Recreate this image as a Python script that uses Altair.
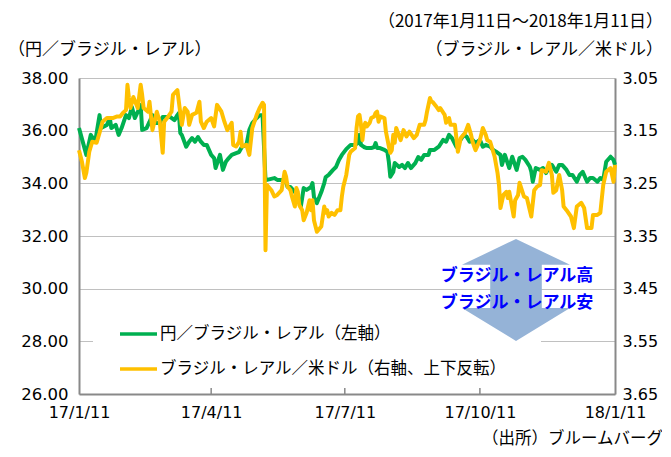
import altair as alt
import pandas as pd

# 円／ブラジル・レアル (left axis)
jpy_dates = [
    "2017-01-11", "2017-01-16", "2017-01-19", "2017-01-22", "2017-01-25", "2017-01-26", "2017-01-30",
    "2017-02-01", "2017-02-02", "2017-02-05", "2017-02-07", "2017-02-09", "2017-02-12", "2017-02-14",
    "2017-02-16", "2017-02-18", "2017-02-20", "2017-02-22", "2017-02-23", "2017-02-26", "2017-02-28",
    "2017-03-02", "2017-03-04", "2017-03-07", "2017-03-09", "2017-03-11", "2017-03-14", "2017-03-17",
    "2017-03-19", "2017-03-20", "2017-03-21", "2017-03-22", "2017-03-25", "2017-03-27", "2017-03-29",
    "2017-03-31", "2017-04-02", "2017-04-04", "2017-04-06", "2017-04-08", "2017-04-11", "2017-04-13",
    "2017-04-14", "2017-04-17", "2017-04-19", "2017-04-21", "2017-04-23", "2017-04-25", "2017-04-28",
    "2017-04-30", "2017-05-02", "2017-05-05", "2017-05-07", "2017-05-09", "2017-05-12", "2017-05-14",
    "2017-05-16", "2017-05-18", "2017-05-19", "2017-05-24", "2017-05-26", "2017-05-30", "2017-06-01",
    "2017-06-02", "2017-06-04", "2017-06-07", "2017-06-09", "2017-06-11", "2017-06-13", "2017-06-15",
    "2017-06-18", "2017-06-19", "2017-06-20", "2017-06-22", "2017-06-25", "2017-06-27", "2017-06-28",
    "2017-06-30", "2017-07-03", "2017-07-05", "2017-07-07", "2017-07-09", "2017-07-12", "2017-07-15",
    "2017-07-18", "2017-07-20", "2017-07-21", "2017-07-22", "2017-07-24", "2017-07-26", "2017-07-29",
    "2017-07-31", "2017-08-01", "2017-08-02", "2017-08-04", "2017-08-07", "2017-08-09", "2017-08-10",
    "2017-08-11", "2017-08-13", "2017-08-14", "2017-08-17", "2017-08-19", "2017-08-21", "2017-08-23",
    "2017-08-25", "2017-08-28", "2017-08-30", "2017-09-01", "2017-09-03", "2017-09-06", "2017-09-07",
    "2017-09-10", "2017-09-13", "2017-09-16", "2017-09-18", "2017-09-20", "2017-09-22", "2017-09-25",
    "2017-09-27", "2017-09-30", "2017-10-02", "2017-10-04", "2017-10-06", "2017-10-08", "2017-10-11",
    "2017-10-13", "2017-10-15", "2017-10-18", "2017-10-20", "2017-10-22", "2017-10-25", "2017-10-26",
    "2017-10-28", "2017-10-31", "2017-11-02", "2017-11-05", "2017-11-07", "2017-11-09", "2017-11-11",
    "2017-11-14", "2017-11-15", "2017-11-16", "2017-11-18", "2017-11-21", "2017-11-23", "2017-11-25",
    "2017-11-27", "2017-11-29", "2017-12-02", "2017-12-04", "2017-12-06", "2017-12-09", "2017-12-11",
    "2017-12-13", "2017-12-16", "2017-12-18", "2017-12-20", "2017-12-23", "2017-12-25", "2017-12-27",
    "2017-12-30", "2018-01-01", "2018-01-03", "2018-01-05", "2018-01-08", "2018-01-10", "2018-01-11",
]
jpy_values = [
    36.10, 35.08, 35.84, 35.58, 36.59, 36.10, 36.22,
    36.48, 36.10, 36.22, 35.84, 36.10, 36.59, 36.48,
    36.90, 36.48, 36.71, 36.97, 36.03, 36.10, 36.33,
    36.59, 36.29, 36.29, 36.52, 36.52, 36.52, 36.40,
    36.59, 36.67, 35.91, 35.84, 35.39, 35.58, 35.72,
    35.58, 35.76, 35.58, 35.46, 35.46, 35.08, 34.96,
    34.58, 35.08, 34.51, 34.82, 34.96, 35.08, 35.15,
    35.19, 35.39, 35.46, 36.03, 36.29, 36.48, 36.59,
    36.59, 34.13, 34.13, 34.20, 34.13, 34.13, 34.05,
    33.86, 33.86, 33.67, 33.48, 33.10, 33.82, 33.75,
    33.86, 34.01, 33.48, 33.25, 33.67, 34.01, 34.24,
    34.32, 34.51, 34.62, 34.89, 35.08, 35.30, 35.46,
    35.46, 35.53, 35.84, 35.46, 35.38, 35.34, 35.34,
    35.38, 35.53, 35.34, 35.34, 35.27, 35.19, 34.81,
    34.25, 34.43, 34.77, 34.62, 34.70, 34.58, 34.77,
    34.58, 34.77, 35.00, 34.89, 35.08, 35.08, 35.27,
    35.27, 35.39, 35.65, 35.58, 35.84, 35.72, 35.39,
    35.58, 35.84, 35.77, 35.58, 35.65, 35.53, 35.65,
    35.39, 35.46, 35.39, 35.27, 35.20, 35.08, 34.70,
    35.08, 34.58, 35.01, 34.51, 34.96, 35.01, 34.89,
    34.63, 34.44, 34.06, 34.58, 34.51, 34.58, 34.39,
    34.58, 34.70, 34.44, 34.70, 34.70, 34.51, 34.32,
    34.32, 34.06, 34.32, 34.44, 34.06, 34.20, 34.20,
    34.06, 34.20, 34.13, 34.82, 35.01, 34.89, 34.70,
]

# ブラジル・レアル／米ドル (right axis, reversed)
usd_dates = [
    "2017-01-11", "2017-01-13", "2017-01-15", "2017-01-16", "2017-01-18", "2017-01-20", "2017-01-23",
    "2017-01-25", "2017-01-27", "2017-01-30", "2017-02-01", "2017-02-03", "2017-02-06", "2017-02-08",
    "2017-02-10", "2017-02-12", "2017-02-13", "2017-02-14", "2017-02-15", "2017-02-17", "2017-02-20",
    "2017-02-22", "2017-02-23", "2017-02-24", "2017-02-27", "2017-02-28", "2017-03-02", "2017-03-05",
    "2017-03-07", "2017-03-09", "2017-03-10", "2017-03-12", "2017-03-15", "2017-03-16", "2017-03-18",
    "2017-03-19", "2017-03-20", "2017-03-22", "2017-03-24", "2017-03-26", "2017-03-27", "2017-03-29",
    "2017-04-01", "2017-04-03", "2017-04-04", "2017-04-06", "2017-04-08", "2017-04-11", "2017-04-13",
    "2017-04-15", "2017-04-18", "2017-04-20", "2017-04-22", "2017-04-25", "2017-04-26", "2017-04-28",
    "2017-04-30", "2017-05-01", "2017-05-02", "2017-05-05", "2017-05-07", "2017-05-09", "2017-05-12",
    "2017-05-14", "2017-05-16", "2017-05-17", "2017-05-18", "2017-05-19", "2017-05-22", "2017-05-24",
    "2017-05-26", "2017-05-29", "2017-05-31", "2017-06-01", "2017-06-02", "2017-06-04", "2017-06-05",
    "2017-06-07", "2017-06-08", "2017-06-09", "2017-06-10", "2017-06-12", "2017-06-13", "2017-06-15",
    "2017-06-17", "2017-06-18", "2017-06-19", "2017-06-20", "2017-06-22", "2017-06-25", "2017-06-26",
    "2017-06-27", "2017-06-28", "2017-06-29", "2017-06-30", "2017-07-02", "2017-07-04", "2017-07-06",
    "2017-07-08", "2017-07-09", "2017-07-10", "2017-07-12", "2017-07-14", "2017-07-15", "2017-07-18",
    "2017-07-19", "2017-07-20", "2017-07-21", "2017-07-22", "2017-07-23", "2017-07-24", "2017-07-25",
    "2017-07-26", "2017-07-28", "2017-07-29", "2017-07-31", "2017-08-01", "2017-08-02", "2017-08-03",
    "2017-08-04", "2017-08-07", "2017-08-08", "2017-08-10", "2017-08-11", "2017-08-12", "2017-08-13",
    "2017-08-14", "2017-08-15", "2017-08-18", "2017-08-20", "2017-08-22", "2017-08-24", "2017-08-27",
    "2017-08-29", "2017-08-31", "2017-09-03", "2017-09-04", "2017-09-05", "2017-09-07", "2017-09-08",
    "2017-09-09", "2017-09-11", "2017-09-13", "2017-09-14", "2017-09-17", "2017-09-18", "2017-09-20",
    "2017-09-21", "2017-09-24", "2017-09-26", "2017-09-28", "2017-10-01", "2017-10-03", "2017-10-05",
    "2017-10-06", "2017-10-08", "2017-10-11", "2017-10-13", "2017-10-15", "2017-10-16", "2017-10-18",
    "2017-10-21", "2017-10-23", "2017-10-24", "2017-10-25", "2017-10-27", "2017-10-29", "2017-10-30",
    "2017-10-31", "2017-11-03", "2017-11-04", "2017-11-06", "2017-11-07", "2017-11-10", "2017-11-12",
    "2017-11-15", "2017-11-17", "2017-11-19", "2017-11-21", "2017-11-22", "2017-11-25", "2017-11-27",
    "2017-11-29", "2017-11-30", "2017-12-02", "2017-12-04", "2017-12-06", "2017-12-07", "2017-12-09",
    "2017-12-12", "2017-12-14", "2017-12-16", "2017-12-19", "2017-12-21", "2017-12-23", "2017-12-26",
    "2017-12-27", "2017-12-30", "2018-01-01", "2018-01-03", "2018-01-05", "2018-01-08", "2018-01-10",
    "2018-01-11",
]
usd_values = [
    3.187, 3.209, 3.240, 3.230, 3.190, 3.171, 3.173,
    3.154, 3.133, 3.126, 3.126, 3.126, 3.123, 3.123,
    3.116, 3.111, 3.063, 3.088, 3.107, 3.086, 3.107,
    3.063, 3.082, 3.107, 3.114, 3.095, 3.149, 3.114,
    3.133, 3.192, 3.133, 3.126, 3.114, 3.082, 3.076,
    3.073, 3.095, 3.139, 3.107, 3.114, 3.139, 3.120,
    3.116, 3.095, 3.133, 3.145, 3.133, 3.126, 3.142,
    3.101, 3.114, 3.133, 3.149, 3.135, 3.177, 3.180,
    3.171, 3.152, 3.180, 3.177, 3.196, 3.145, 3.120,
    3.107, 3.097, 3.101, 3.377, 3.253, 3.263, 3.275,
    3.272, 3.263, 3.228, 3.237, 3.256, 3.263, 3.275,
    3.294, 3.259, 3.266, 3.291, 3.301, 3.320, 3.306,
    3.282, 3.301, 3.282, 3.320, 3.342, 3.332, 3.313,
    3.294, 3.306, 3.301, 3.313, 3.306, 3.310, 3.301,
    3.301, 3.275, 3.256, 3.234, 3.196, 3.190, 3.183,
    3.145, 3.123, 3.120, 3.139, 3.168, 3.142, 3.135,
    3.142, 3.135, 3.126, 3.123, 3.116, 3.114, 3.133,
    3.123, 3.126, 3.152, 3.180, 3.192, 3.187, 3.158,
    3.173, 3.145, 3.168, 3.149, 3.161, 3.152, 3.164,
    3.158, 3.139, 3.139, 3.130, 3.114, 3.088, 3.095,
    3.096, 3.103, 3.111, 3.107, 3.120, 3.135, 3.126,
    3.139, 3.139, 3.190, 3.164, 3.154, 3.139, 3.158,
    3.171, 3.187, 3.168, 3.145, 3.158, 3.168, 3.171,
    3.199, 3.230, 3.253, 3.297, 3.272, 3.266, 3.278,
    3.266, 3.313, 3.282, 3.272, 3.249, 3.275, 3.278,
    3.313, 3.263, 3.256, 3.253, 3.225, 3.228, 3.211,
    3.234, 3.268, 3.263, 3.234, 3.263, 3.294, 3.301,
    3.313, 3.335, 3.294, 3.287, 3.297, 3.335, 3.335,
    3.310, 3.310, 3.306, 3.253, 3.228, 3.221, 3.247,
    3.215,
]

x_tick_dates = [(2017, 1, 11), (2017, 4, 11), (2017, 7, 11), (2017, 10, 11), (2018, 1, 11)]
inner_tick_dates = ["2017-04-11", "2017-07-11", "2017-10-11"]
left_ticks = [26, 28, 30, 32, 34, 36, 38]
right_ticks = [3.05, 3.15, 3.25, 3.35, 3.45, 3.55, 3.65]

legend_labels = ["円／ブラジル・レアル（左軸）", "ブラジル・レアル／米ドル（右軸、上下反転）"]
arrow_labels = ["ブラジル・レアル高", "ブラジル・レアル安"]
period_text = "（2017年1月11日～2018年1月11日）"
left_unit = "（円／ブラジル・レアル）"
right_unit = "（ブラジル・レアル／米ドル）"
source_text = "（出所）ブルームバーグ"

GREEN = "#00B050"
YELLOW = "#FFC000"
AXIS_GRAY = "#898989"
JP_FONT = "Noto Sans CJK JP"
NUM_FONT = "DejaVu Sans"

W, H = 536, 316

jpy_df = pd.DataFrame({"date": jpy_dates, "jpy": jpy_values})
usd_df = pd.DataFrame({"date": usd_dates, "usd": usd_values})


def dt(t):
    return alt.DateTime(year=t[0], month=t[1], date=t[2], utc=True)


x_enc = alt.X(
    "date:T",
    title=None,
    scale=alt.Scale(type="utc", domain=[dt(x_tick_dates[0]), dt(x_tick_dates[-1])]),
    axis=alt.Axis(
        values=[dt(t) for t in x_tick_dates],
        format="%y/%-m/%-d",
        labelFlush=False,
        ticks=False,
        grid=False,
        domainColor=AXIS_GRAY,
        domainWidth=2,
        labelPadding=10,
    ),
)

green = alt.Chart(jpy_df).mark_line(color=GREEN, strokeWidth=4, strokeJoin="round").encode(
    x=x_enc,
    y=alt.Y(
        "jpy:Q",
        title=None,
        scale=alt.Scale(domain=[26, 38], nice=False, zero=False),
        axis=alt.Axis(
            orient="left",
            values=left_ticks,
            format=".2f",
            grid=True,
            gridColor="#C0C0C0",
            gridWidth=1,
            ticks=False,
            domainColor=AXIS_GRAY,
            domainWidth=2,
            labelPadding=11,
            labelFontSize=16.5,
        ),
    ),
)

yellow = alt.Chart(usd_df).mark_line(color=YELLOW, strokeWidth=4, strokeJoin="round").encode(
    x=x_enc,
    y=alt.Y(
        "usd:Q",
        title=None,
        scale=alt.Scale(domain=[3.05, 3.65], nice=False, zero=False, reverse=True),
        axis=alt.Axis(
            orient="right",
            values=right_ticks,
            format=".2f",
            grid=False,
            ticks=False,
            domainColor=AXIS_GRAY,
            domainWidth=2,
            labelPadding=7,
        ),
    ),
)

ticks = alt.Chart(pd.DataFrame({"date": inner_tick_dates})).mark_rule(
    color=AXIS_GRAY, strokeWidth=1.5
).encode(x=x_enc, y=alt.value(H - 6), y2=alt.value(H))

one = pd.DataFrame({"k": [0]})

legend_bg = alt.Chart(one).mark_rect(color="white").encode(
    x=alt.value(14), x2=alt.value(462), y=alt.value(238), y2=alt.value(H - 2)
)

legend_lines = alt.Chart(
    pd.DataFrame({"label": legend_labels, "c": [GREEN, YELLOW], "yy": [256, 291]})
).mark_rule(strokeWidth=3.5).encode(
    x=alt.value(41), x2=alt.value(78), y=alt.Y("yy:Q", scale=None),
    color=alt.Color("c:N", scale=None),
)

legend_text = alt.Chart(
    pd.DataFrame({"label": legend_labels, "yy": [256, 291]})
).mark_text(align="left", baseline="middle", font=JP_FONT, fontSize=16.5, color="black").encode(
    x=alt.value(81), y=alt.Y("yy:Q", scale=None), text="label:N"
)

arrow_path = "M0,-0.85L0.9,-0.42L0.43,-0.42L0.43,0.3L0.9,0.3L0,0.85L-0.9,0.3L-0.43,0.3L-0.43,-0.42L-0.9,-0.42Z"
arrow = alt.Chart(one).mark_point(
    shape=arrow_path, filled=True, color="#95B3D7", opacity=1, size=14400, strokeWidth=0
).encode(x=alt.value(437), y=alt.value(212))

arrow_text = alt.Chart(
    pd.DataFrame({"label": arrow_labels, "yy": [198, 225]})
).mark_text(align="center", baseline="middle", font=JP_FONT, fontSize=17, fontWeight="bold", color="#0000FF").encode(
    x=alt.value(438), y=alt.Y("yy:Q", scale=None), text="label:N"
)


def note(text, x, y, align, size=17):
    return alt.Chart(pd.DataFrame({"t": [text]})).mark_text(
        align=align, baseline="middle", font=JP_FONT, fontSize=size, color="black"
    ).encode(x=alt.value(x), y=alt.value(y), text="t:N")


notes = [
    note(period_text, 584, -56, "right"),
    note(left_unit, -71, -28, "left"),
    note(right_unit, 584, -28, "right"),
    note(source_text, 584, 361, "right", 16.5),
]

chart = alt.layer(
    legend_bg, green, yellow, ticks, legend_lines, legend_text, arrow, arrow_text, *notes
).resolve_scale(y="independent").properties(
    width=W,
    height=H,
    autosize=alt.AutoSizeParams(type="none"),
    padding={"left": 71, "top": 70, "right": 47, "bottom": 54},
).configure_view(stroke=None).configure_axis(
    labelFont=NUM_FONT, labelFontSize=16, labelColor="black"
)

chart.save("out.html", embed_options={"renderer": "svg", "actions": False})
